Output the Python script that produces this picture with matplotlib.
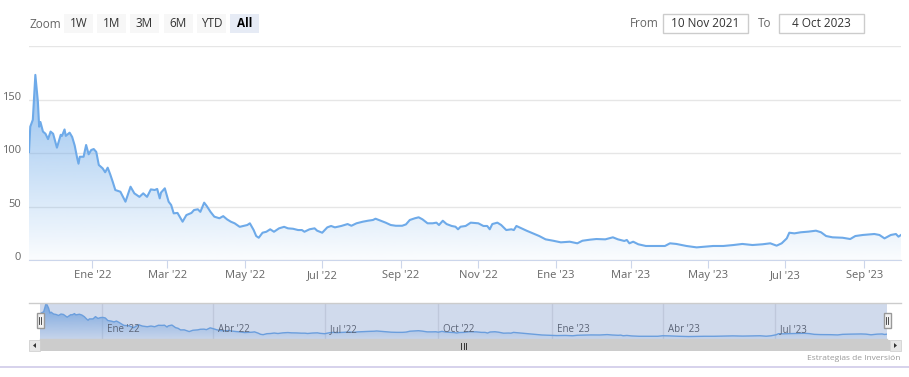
import numpy as np
import matplotlib
matplotlib.use('Agg')
import matplotlib.pyplot as plt
import matplotlib.dates as mdates
from matplotlib.patches import Rectangle, Polygon
from matplotlib.lines import Line2D
from matplotlib.transforms import ScaledTranslation
from matplotlib.colors import to_rgb

plt.rcParams['font.family'] = ['Open Sans', 'DejaVu Sans']

# datos (dias desde el 10 nov 2021, precio)
start_date = np.datetime64('2021-11-10')
day_offsets = [2, 3, 5, 7, 9, 10, 11, 13, 15, 17, 19, 21, 24, 27, 28, 30, 31, 34, 36, 38,
               40, 41, 42, 45, 47, 49, 51, 53, 55, 57, 60, 62, 64, 66, 68, 70, 74, 78, 82, 85,
               89, 92, 95, 98, 101, 103, 105, 106, 109, 112, 114, 116, 119, 123, 126, 130, 132, 135, 137, 140,
               142, 145, 148, 152, 155, 158, 161, 164, 168, 171, 174, 176, 179, 181, 183, 186, 189, 192, 195, 199,
               203, 206, 210, 214, 217, 219, 223, 227, 229, 233, 237, 240, 243, 248, 253, 256, 260, 265, 269, 273,
               275, 279, 283, 287, 291, 296, 299, 302, 306, 309, 312, 316, 320, 323, 325, 328, 331, 335, 338, 340,
               342, 346, 350, 356, 360, 363, 365, 367, 371, 374, 378, 382, 384, 386, 390, 394, 399, 404, 409, 415,
               421, 428, 434, 438, 444, 449, 456, 462, 466, 471, 473, 475, 478, 482, 488, 496, 503, 507, 512, 520,
               528, 534, 541, 549, 557, 564, 572, 580, 586, 591, 595, 599, 601, 605, 610, 616, 622, 626, 630, 635,
               643, 649, 653, 659, 668, 672, 676, 681, 685, 687, 689]
prices = [101, 124.6, 131, 173, 148, 124.6, 129, 120, 118, 113, 120, 118, 105, 117, 116, 122, 116, 119, 115, 107,
          95, 90, 96.5, 96.5, 107.5, 98.8, 102.8, 103.7, 101, 88.8, 85.7, 82, 86.3, 80, 73, 65.4, 63.8, 54.5, 68.5, 62.3,
          59, 62.3, 59, 66, 65.4, 66.4, 57.6, 63, 67, 54.5, 51.4, 43.6, 44, 35.8, 42, 44, 46.7, 47.4, 45, 53.6,
          50.5, 45, 40.5, 39, 41, 38, 35.8, 34.3, 31, 31.8, 32.7, 34.3, 28, 22.4, 20.8, 25.5, 26.4, 28.7, 26.4, 29.6,
          31, 29.6, 29.2, 28, 28, 26.4, 28.7, 29.6, 27.4, 25.5, 30.5, 31.8, 30.5, 31.8, 33.6, 32, 34.3, 35.8, 36.7, 37.4,
          38.6, 36.7, 34.9, 32.7, 32, 32, 33.3, 37.4, 39, 39.9, 38, 34.3, 34.3, 34.9, 32.7, 36.7, 33.6, 31.8, 31.1, 28.7,
          31.1, 31.8, 34.9, 34.3, 31.8, 31.8, 28.7, 33.6, 34.9, 32.7, 28, 28.7, 28, 31.8, 29.6, 27.4, 24.9, 22.4, 19.3, 18,
          16.5, 17.1, 15.6, 18, 19, 19.6, 19.3, 21.2, 19.3, 17.8, 18.7, 15.6, 17.1, 14.7, 13.1, 13.1, 13.1, 15.6, 15, 13.1,
          11.8, 12.4, 13.1, 13.1, 14, 15, 14, 14.7, 15.6, 13.4, 15.6, 20.2, 25.5, 24.9, 25.9, 26.5, 27.4, 25.9, 22.4, 21.2,
          20.8, 19.6, 22.4, 23.4, 24.3, 23.4, 20.2, 23.4, 24.3, 21.8, 23.4]

tick_dates = ['2022-01-01', '2022-03-01', '2022-05-01', '2022-07-01', '2022-09-01', '2022-11-01',
              '2023-01-01', '2023-03-01', '2023-05-01', '2023-07-01', '2023-09-01']
tick_labels = ["Ene '22", "Mar '22", "May '22", "Jul '22", "Sep '22", "Nov '22",
               "Ene '23", "Mar '23", "May '23", "Jul '23", "Sep '23"]
nav_tick_dates = ['2022-01-01', '2022-04-01', '2022-07-01', '2022-10-01',
                  '2023-01-01', '2023-04-01', '2023-07-01']
nav_tick_labels = ["Ene '22", "Abr '22", "Jul '22", "Oct '22", "Ene '23", "Abr '23", "Jul '23"]
y_ticks = [0, 50, 100, 150, 200]
y_labels = ['0', '50', '100', '150', '']
zoom_buttons = ['1W', '1M', '3M', '6M', 'YTD', 'All']
from_text = '10 Nov 2021'
to_text = '4 Oct 2023'
credits = 'Estrategias de Inversión'

dates = mdates.date2num(start_date + np.array(day_offsets).astype('timedelta64[D]'))
ticks = mdates.date2num(np.array(tick_dates, dtype='datetime64[D]'))
nav_ticks = mdates.date2num(np.array(nav_tick_dates, dtype='datetime64[D]'))

blue = '#6eaae9'
W, H = 909, 377
fig = plt.figure(figsize=(W / 100, H / 100), dpi=100)


def fx(px):
    return px / W


def fy(py):
    return 1 - py / H


def box(x0, y0, x1, y1, **kw):
    fig.patches.append(Rectangle((fx(x0), fy(y1)), (x1 - x0) / W, (y1 - y0) / H,
                                 transform=fig.transFigure, **kw))


def hline(x0, x1, y, **kw):
    fig.lines.append(Line2D([fx(x0), fx(x1)], [fy(y), fy(y)], transform=fig.transFigure, **kw))


def vline(x, y0, y1, **kw):
    fig.lines.append(Line2D([fx(x), fx(x)], [fy(y0), fy(y1)], transform=fig.transFigure, **kw))


def gradient_fill(axis, xs, ys, top, a_top, a_bottom):
    verts = [(xs[0], 0)] + list(zip(xs, ys)) + [(xs[-1], 0)]
    patch = Polygon(verts, closed=True, facecolor='none', edgecolor='none')
    axis.add_patch(patch)
    n = 256
    img = np.zeros((n, 1, 4))
    img[..., :3] = to_rgb(blue)
    img[:, 0, 3] = np.linspace(a_top, a_bottom, n)
    im = axis.imshow(img, extent=[xs[0], xs[-1], 0, top], aspect='auto', origin='upper', zorder=2)
    im.set_clip_path(patch)


# grafico principal
ax = fig.add_axes([fx(29), fy(260), 872 / W, 214 / H])
gradient_fill(ax, dates, prices, 200, 0.85, 0.03)
ax.plot(dates, prices, color=blue, lw=1.5, zorder=3)
ax.set_xlim(dates[0], dates[-1])
ax.set_ylim(0, 200)
for s in ['top', 'left', 'right']:
    ax.spines[s].set_visible(False)
ax.spines['bottom'].set_color('#ccd6eb')
ax.set_yticks(y_ticks)
ax.set_yticklabels(y_labels)
ax.yaxis.grid(True, color='#e6e6e6', lw=1)
ax.set_axisbelow(True)
ax.tick_params(axis='y', length=0, pad=6, labelsize=8, labelcolor='#666666')
for lbl in ax.get_yticklabels():
    lbl.set_transform(lbl.get_transform() + ScaledTranslation(0, 4 / 100, fig.dpi_scale_trans))
ax.set_xticks(ticks)
ax.set_xticklabels(tick_labels)
ax.tick_params(axis='x', length=6, color='#ccd6eb', pad=1, labelsize=8, labelcolor='#666666')

# selector de rango
fig.text(fx(30), fy(24), 'Zoom', fontsize=8.5, color='#666666', va='center')
bx = [64, 97, 130, 164, 197, 230]
for x0, lab in zip(bx, zoom_buttons):
    sel = lab == 'All'
    box(x0, 14, x0 + 29, 33, facecolor='#e6ebf5' if sel else '#f7f7f7', edgecolor='none')
    fig.text(fx(x0 + 14.5), fy(23.5), lab, fontsize=8.5, ha='center', va='center',
             color='#000000' if sel else '#333333', fontweight='bold' if sel else 'normal')

fig.text(fx(630), fy(23.5), 'From', fontsize=8.5, color='#666666', va='center')
box(663, 14, 748, 33, facecolor='white', edgecolor='#cccccc', lw=1)
fig.text(fx(705.5), fy(23.5), from_text, fontsize=8.5, color='#333333', ha='center', va='center')
fig.text(fx(758), fy(23.5), 'To', fontsize=8.5, color='#666666', va='center')
box(779, 14, 864, 33, facecolor='white', edgecolor='#cccccc', lw=1)
fig.text(fx(821.5), fy(23.5), to_text, fontsize=8.5, color='#333333', ha='center', va='center')

# navegador
nav = fig.add_axes([fx(40), fy(339), 847 / W, 36 / H])
for t in nav_ticks:
    nav.axvline(t, color='#e6e6e6', lw=1, zorder=1)
gradient_fill(nav, dates, prices, max(prices), 0.9, 0.1)
nav.plot(dates, prices, color=blue, lw=1, zorder=3)
nav.set_xlim(dates[0], dates[-1])
nav.set_ylim(0, max(prices))
nav.set_xticks([])
nav.set_yticks([])
for s in nav.spines.values():
    s.set_visible(False)
for t, lab in zip(nav_ticks, nav_tick_labels):
    nav.text(t, 0.26, '  ' + lab, transform=nav.get_xaxis_transform(), fontsize=7,
             color='#555555', va='center', ha='left', zorder=4)
nav.add_patch(Rectangle((0, 0), 1, 1, transform=nav.transAxes, facecolor=(102 / 255, 133 / 255, 194 / 255, 0.3),
                        edgecolor='none', zorder=5))
hline(29, 901, 303, color='#cccccc', lw=1)
hline(40, 887, 339, color='#cccccc', lw=1)

for hx in [40, 887]:
    box(hx - 3.5, 313, hx + 3.5, 328, facecolor='#f2f2f2', edgecolor='#999999', lw=1)
    vline(hx - 1, 317, 324, color='#333333', lw=0.6)
    vline(hx + 1, 317, 324, color='#333333', lw=0.6)

# barra de desplazamiento
box(29, 340, 901, 351, facecolor='#f2f2f2', edgecolor='none')
box(40, 340, 890, 351, facecolor='#cccccc', edgecolor='none')
box(29, 340, 40, 351, facecolor='#e6e6e6', edgecolor='#cccccc', lw=0.5)
box(890, 340, 901, 351, facecolor='#e6e6e6', edgecolor='#cccccc', lw=0.5)
fig.patches.append(Polygon([(fx(33), fy(345.5)), (fx(36), fy(343)), (fx(36), fy(348))], closed=True,
                           transform=fig.transFigure, facecolor='#333333', edgecolor='none'))
fig.patches.append(Polygon([(fx(897), fy(345.5)), (fx(894), fy(343)), (fx(894), fy(348))], closed=True,
                           transform=fig.transFigure, facecolor='#333333', edgecolor='none'))
for gx in [461, 463.5, 466]:
    vline(gx, 342.5, 348.5, color='#333333', lw=0.7)

fig.text(fx(900), fy(358), credits, fontsize=6, color='#999999', ha='right', va='center')
hline(0, 909, 367, color='#cfcbe9', lw=1.2)

fig.savefig('out.png', dpi=100, facecolor='white')
